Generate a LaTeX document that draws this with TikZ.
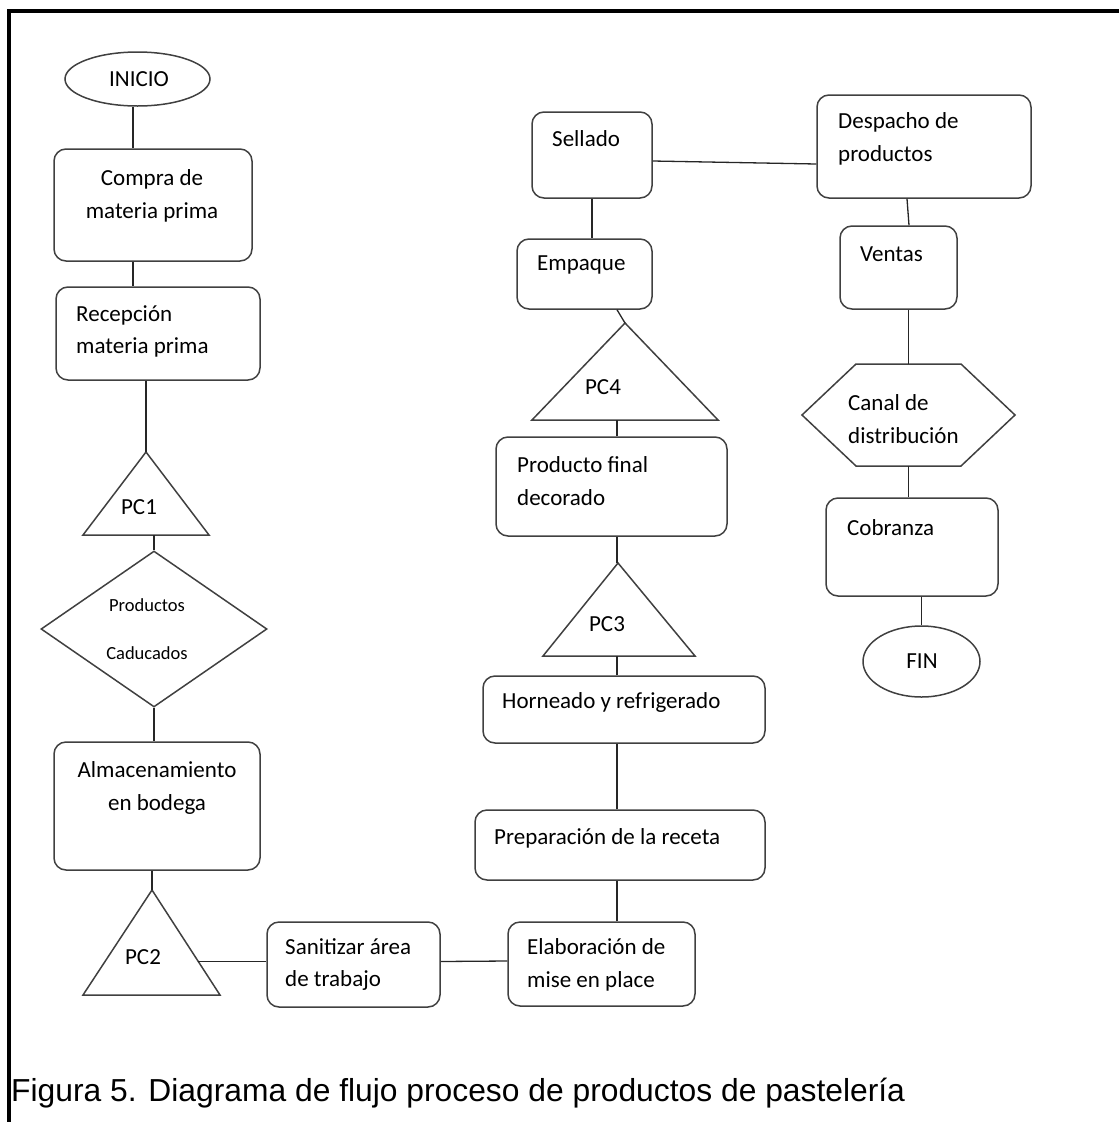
\documentclass[tikz,border=0pt]{standalone}
\usepackage{fontspec}
\setmainfont{Carlito}
\newfontfamily\piefont{Liberation Sans}
\usetikzlibrary{calc,positioning,shapes.geometric}
\tikzset{
  flow schemes/.style = {
    x = 1pt, y = -1pt,
    % Formas
    forma/.style  = {draw=black!75, line width=1.5pt},
    caja/.style   = {forma, rounded corners=12pt, inner sep=0pt},
    elipse/.style = {forma, ellipse, inner sep=0pt},
    rombo/.style  = {forma, diamond, inner sep=0pt},
    % Textos
    txt/.style    = {font=\fontsize{23}{32.5}\selectfont, inner sep=0pt,
                     anchor=west, align=left},
    ctxt/.style   = {txt, anchor=center, align=center},
    % Lineas
    enlace/.style = {draw=black!85, line width=1.3pt},
  }
}
\begin{document}
\begin{tikzpicture}[flow schemes]
\def\setpoints(#1)<#2,#3,#4,#5,#6>{
    \path (#2,#3) coordinate (#1_top)
          (#5,#4) coordinate (#1_sw)
          (#6,#4) coordinate (#1_se)
          ({(#5+#6)/2},#4) coordinate (#1_south);
    \path ($(#1_top)!0.67!(#1_se)$) coordinate (#1_east); }
\def\triang(#1)<#2,#3,#4,#5,#6>[#7] at (#8);{
    \setpoints(#1)<#2,#3,#4,#5,#6>
    \draw[forma] (#1_top) -- (#1_se) -- (#1_sw) -- cycle;
    \node[ctxt] (#1_txt) at (#8) {#7}; }
\def\hexa(#1)<#2,#3,#4,#5,#6>{
    \path (#2,#3-#5) coordinate (#1_top) (#2,#3+#5) coordinate (#1_bot);
    \draw[forma] (#2-#4,#3) -- (#2-#4+#6,#3-#5) -- (#2+#4-#6,#3-#5) -- (#2+#4,#3)
       -- (#2+#4-#6,#3+#5) -- (#2-#4+#6,#3+#5) -- cycle; }

\useasboundingbox (0,0) rectangle (1119,1122);
\draw[line width=3.6pt] (9,1122) -- (9,11) -- (1119,11);
\path (133,0) coordinate (eje1) (617,0) coordinate (eje2);

%---------------------------------------------
% columna izquierda
\node[elipse, minimum width=145, minimum height=54] (inicio) at (137.5,79) {};
\node[ctxt] (inicio_txt) at (139,79) {INICIO};
\node[caja, minimum width=198, minimum height=112] (compra) at (153,205) {};
\node[ctxt] (compra_txt) at (152,196) {Compra de\\materia prima};
\node[caja, minimum width=204, minimum height=93] (recep) at (158,333.5) {};
\node[txt] (recep_txt) at (76,331.5) {Recepción\\materia prima};
\triang(pc1)<146,452,535,83,209>[PC1] at (139,507);
\node[rombo, minimum width=226, minimum height=156] (rombo) at (154,629) {};
\node[ctxt, font=\fontsize{18.5}{48}\selectfont] (rombo_txt) at (147,629) {Productos\\Caducados};
\node[caja, minimum width=206, minimum height=128] (almac) at (157,806) {};
\node[ctxt] (almac_txt) at (157,788) {Almacenamiento\\en bodega};
\triang(pc2)<152,890,995,83,220>[PC2] at (143,957);
\node[caja, minimum width=173, minimum height=85] (sanit) at (353.5,964.5) {};
\node[txt] (sanit_txt) at (285,964.5) {Sanitizar área\\de trabajo};

% columna central
\node[caja, minimum width=187, minimum height=84] (elab) at (601.5,964) {};
\node[txt] (elab_txt) at (527,965) {Elaboración de\\mise en place};
\node[caja, minimum width=290, minimum height=70] (prep) at (620,845) {};
\node[txt] (prep_txt) at (494,838) {Preparación de la receta};
\node[caja, minimum width=282, minimum height=67] (horn) at (624,709.5) {};
\node[txt] (horn_txt) at (502,702) {Horneado y refrigerado};
\triang(pc3)<618,563,656,543,695>[PC3] at (607,624);
\node[caja, minimum width=231, minimum height=99] (final) at (611.5,486.5) {};
\node[txt] (final_txt) at (517,481) {Producto final\\decorado};
\triang(pc4)<625,323,420,532,718>[PC4] at (603,387);
\node[caja, minimum width=135, minimum height=70] (empaque) at (584.5,274) {};
\node[txt] (empaque_txt) at (537,265) {Empaque};
\node[caja, minimum width=120, minimum height=86] (sellado) at (592,155) {};
\node[txt] (sellado_txt) at (552,139) {Sellado};

% columna derecha
\node[caja, minimum width=214, minimum height=103] (despacho) at (924,146.5) {};
\node[txt] (despacho_txt) at (838,139) {Despacho de\\productos};
\node[caja, minimum width=117, minimum height=83] (ventas) at (898.5,267.5) {};
\node[txt] (ventas_txt) at (860,254) {Ventas};
\hexa(canal)<908.5,415,106.5,51,54>
\node[txt] (canal_txt) at (848,419) {Canal de\\distribución};
\node[caja, minimum width=172, minimum height=98] (cobranza) at (912,547) {};
\node[txt] (cobranza_txt) at (847,528) {Cobranza};
\node[elipse, minimum width=117, minimum height=71] (fin) at (921.5,661.5) {};
\node[ctxt] (fin_txt) at (922,661) {FIN};

%---------------------------------------------
% enlaces
\path ([yshift=3pt]sanit.west) coordinate (sanit_w);
\draw[enlace] (inicio.south -| eje1) -- (compra.north -| eje1);
\draw[enlace] (compra.south -| eje1) -- (recep.north -| eje1);
\draw[enlace] (recep.south -| pc1_top) -- (pc1_top);
\draw[enlace] (pc1_south -| rombo.north) -- (rombo.north);
\draw[enlace] (rombo.south) -- (rombo.south |- almac.north);
\draw[enlace] (almac.south -| pc2_top) -- (pc2_top);
\draw[enlace] (pc2_east |- sanit_w) -- (sanit_w);
\draw[enlace] ([yshift=3pt]sanit.east) -- ([yshift=3pt]elab.west);
\draw[enlace] (elab.north -| eje2) -- (prep.south -| eje2);
\draw[enlace] (prep.north -| eje2) -- (horn.south -| eje2);
\draw[enlace] (horn.north -| eje2) -- (pc3_south -| eje2);
\draw[enlace] (pc3_top -| eje2) -- (final.south -| eje2);
\draw[enlace] (final.north -| eje2) -- (pc4_south -| eje2);
\draw[enlace] (pc4_top) -- (empaque.south -| eje2);
\draw[enlace] (sellado.south) -- (sellado.south |- empaque.north);
\draw[enlace] ([yshift=-6pt]sellado.east) -- ([yshift=-17.5pt]despacho.west);
\draw[enlace] ([xshift=-17pt]despacho.south) -- ([xshift=10.5pt]ventas.north);
\draw[enlace] (canal_top |- ventas.south) -- (canal_top);
\draw[enlace] (canal_bot) -- (canal_bot |- cobranza.north);
\draw[enlace] (fin.north |- cobranza.south) -- (fin.north);

\node[anchor=base west, inner sep=0pt, font=\piefont\fontsize{31.8}{38}\selectfont]
  (pie) at (11,1101) {Figura 5. Diagrama de flujo proceso de productos de pastelería};
\end{tikzpicture}
\end{document}
